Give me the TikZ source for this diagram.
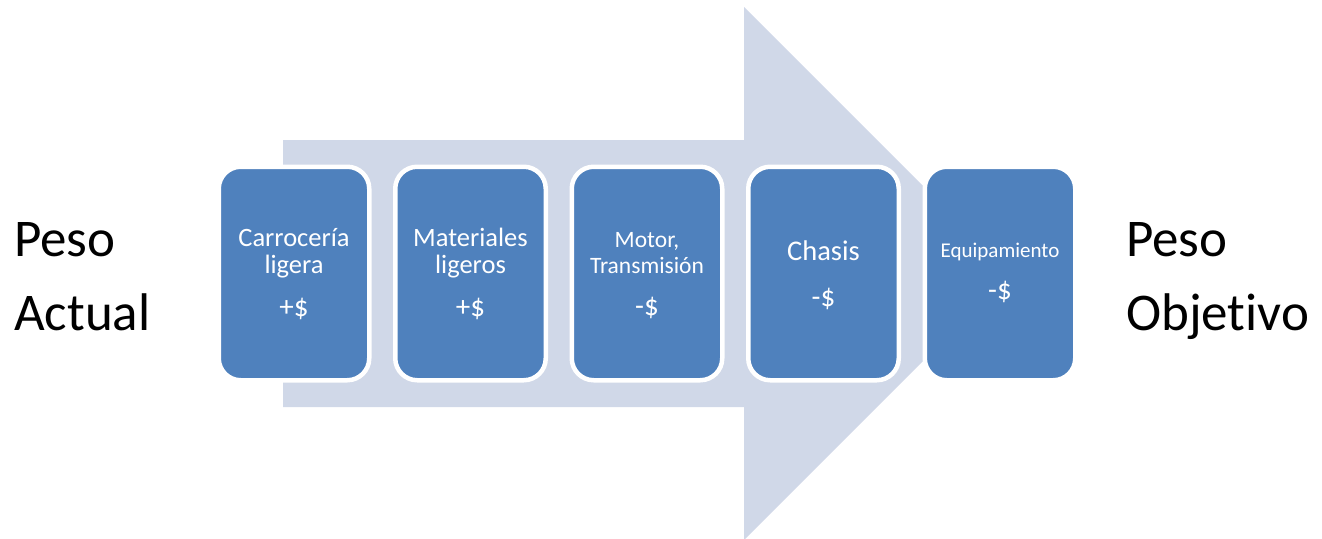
\documentclass[tikz,border=0pt]{standalone}
\usepackage{fontspec}
\setmainfont{Carlito}[Ligatures=NoCommon]
\definecolor{boxblue}{HTML}{4F81BD}
\definecolor{arrowfill}{HTML}{D0D8E8}
\tikzset{
  stage/.style={draw=white, line width=4.5pt, fill=boxblue, rounded corners=22pt,
    minimum width=150.5pt, minimum height=213.5pt, inner sep=0pt},
  lbl/.style={text=white, inner sep=0pt, anchor=base},
  side/.style={text=black, inner sep=0pt, anchor=base west,
    font=\fontsize{53}{60}\selectfont},
  big/.style={font=\fontsize{26.5}{30}\selectfont},
  mid/.style={font=\fontsize{23.5}{27}\selectfont},
  cost/.style={font=\fontsize{29}{32}\selectfont},
}
\begin{document}
\begin{tikzpicture}[x=1pt,y=-1pt]
\useasboundingbox (0,0) rectangle (1322,538);
\clip (0,0) rectangle (1322,538);

% broad background arrow
\fill[arrowfill] (283,140) -- (744,140) -- (744,7) -- (1010.5,273.5)
  -- (744,540) -- (744,407) -- (283,407) -- cycle;

% stages
\node[stage] (s1) at (294,273.5) {};
\node[stage] (s2) at (470.5,273.5) {};
\node[stage] (s3) at (647,273.5) {};
\node[stage] (s4) at (823.5,273.5) {};
\node[stage] (s5) at (1000,273.5) {};

% stage texts
\node[lbl,big]  (s1a) at (294,246) {Carrocería};
\node[lbl,big]  (s1b) at (294,273) {ligera};
\node[lbl,cost] (s1c) at (294,316) {+\$};

\node[lbl,big]  (s2a) at (470.5,246) {Materiales};
\node[lbl,big]  (s2b) at (470.5,273) {ligeros};
\node[lbl,cost] (s2c) at (470.5,316) {+\$};

\node[lbl,mid]  (s3a) at (647,247) {Motor,};
\node[lbl,mid]  (s3b) at (647,273) {Transmisión};
\node[lbl,cost] (s3c) at (647,315) {-\$};

\node[lbl,font=\fontsize{28.5}{32}\selectfont] (s4a) at (823.5,260) {Chasis};
\node[lbl,cost] (s4c) at (823.5,306) {-\$};

\node[lbl,font=\fontsize{21}{25}\selectfont] (s5a) at (1000,257) {Equipamiento};
\node[lbl,cost] (s5c) at (1000,299) {-\$};

% start and goal
\node[side] (pa1) at (14,256) {Peso};
\node[side] (pa2) at (14,330) {Actual};
\node[side] (po1) at (1126,256) {Peso};
\node[side] (po2) at (1126,330) {Objetivo};
\end{tikzpicture}
\end{document}
